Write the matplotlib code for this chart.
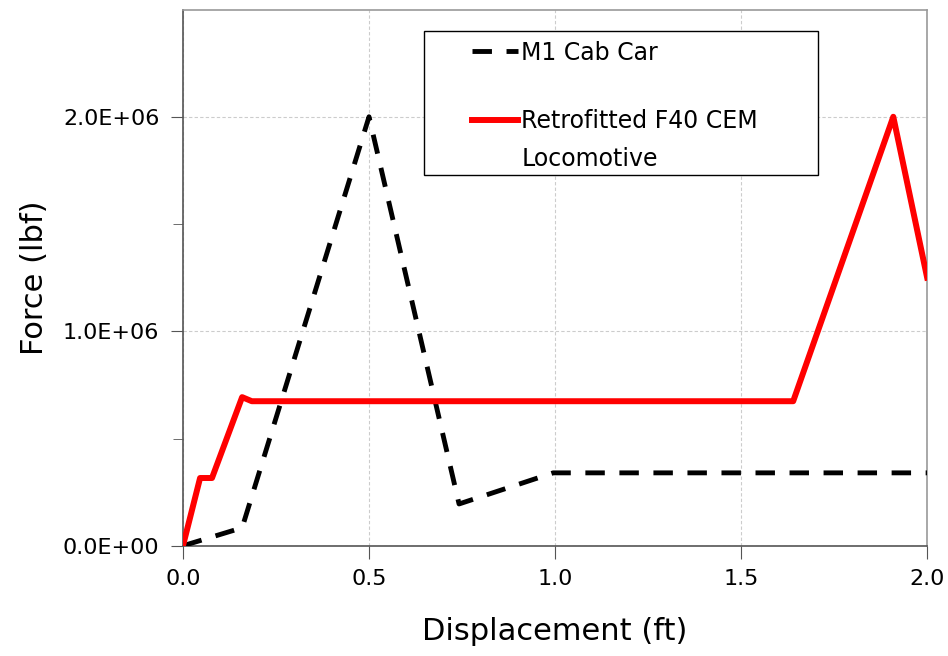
import matplotlib.pyplot as plt
import matplotlib.patches as mpatches
import numpy as np

# M1 Cab Car (dashed black)
m1_x = [0.0, 0.159, 0.50, 0.742, 0.995, 2.0]
m1_y = [0.0, 0.084e6, 2.0e6, 0.195e6, 0.34e6, 0.34e6]

# Retrofitted F40 CEM Locomotive (solid red)
f40_x = [0.0, 0.046, 0.078, 0.159, 0.185, 1.640, 1.909, 2.0]
f40_y = [0.0, 0.316e6, 0.316e6, 0.693e6, 0.674e6, 0.674e6, 2.0e6, 1.25e6]

x_ticks = [0.0, 0.5, 1.0, 1.5, 2.0]
y_ticks = [0.0, 1.0e6, 2.0e6]

plt.rcParams['font.family'] = ['DejaVu Sans']

fig = plt.figure(figsize=(9.48, 6.56), dpi=100)
ax = fig.add_axes([0.193, 0.168, 0.785, 0.8175])

# === Curves ===
ax.plot(m1_x, m1_y, color='black', lw=3.5, dashes=(4, 3),
        label='M1 Cab Car', zorder=4)
ax.plot(f40_x, f40_y, color='#ff0000', lw=4.3,
        label='Retrofitted F40 CEM', zorder=5)

# === Axes Setup ===
ax.set_xlim(0, 2.0)
ax.set_ylim(0, 2.5e6)
ax.set_xticks(x_ticks)
ax.set_xticklabels([f"{t:.1f}" for t in x_ticks])
ax.set_yticks(y_ticks)
ax.set_yticklabels(["0.0E+00", "1.0E+06", "2.0E+06"])
ax.set_yticks([0.5e6, 1.5e6], minor=True)
ax.tick_params(axis='both', which='both', direction='out', labelsize=16,
               color='#555555', pad=8)
ax.tick_params(axis='both', which='major', length=9)
ax.tick_params(axis='y', which='minor', length=7)
ax.grid(True, which='major', color='#cccccc', linestyle=(0, (3, 2)), lw=0.8)

ax.set_xlabel('Displacement (ft)', fontsize=22, labelpad=20)
ax.set_ylabel('Force (lbf)', fontsize=22, labelpad=10)

for s in ['top', 'right']:
    ax.spines[s].set_color('#999999')
for s in ['left', 'bottom']:
    ax.spines[s].set_color('#555555')
for s in ax.spines.values():
    s.set_linewidth(1.2)

# === Legend: box drawn separately, wide side padding ===
box = mpatches.Rectangle((0.324, 0.6915), 0.5295, 0.2685, transform=ax.transAxes,
                         facecolor='white', edgecolor='black', lw=1.0, zorder=6)
ax.add_patch(box)
leg = ax.legend(loc='upper left', bbox_to_anchor=(0.388, 0.942),
                fontsize=17, frameon=False,
                handlelength=1.95, handletextpad=0.15, labelspacing=1.9,
                borderpad=0, borderaxespad=0)
leg.set_zorder(7)

# second line of the red entry sits under the first, as in the source
fig.canvas.draw()
inv = ax.transAxes.inverted()
bb = leg.get_texts()[1].get_window_extent()
x0, y0 = inv.transform((bb.x0, bb.y0))
ax.text(x0, y0 - 0.025, 'Locomotive', transform=ax.transAxes, fontsize=17,
        ha='left', va='top', zorder=8)

fig.savefig('out.png', dpi=100)
